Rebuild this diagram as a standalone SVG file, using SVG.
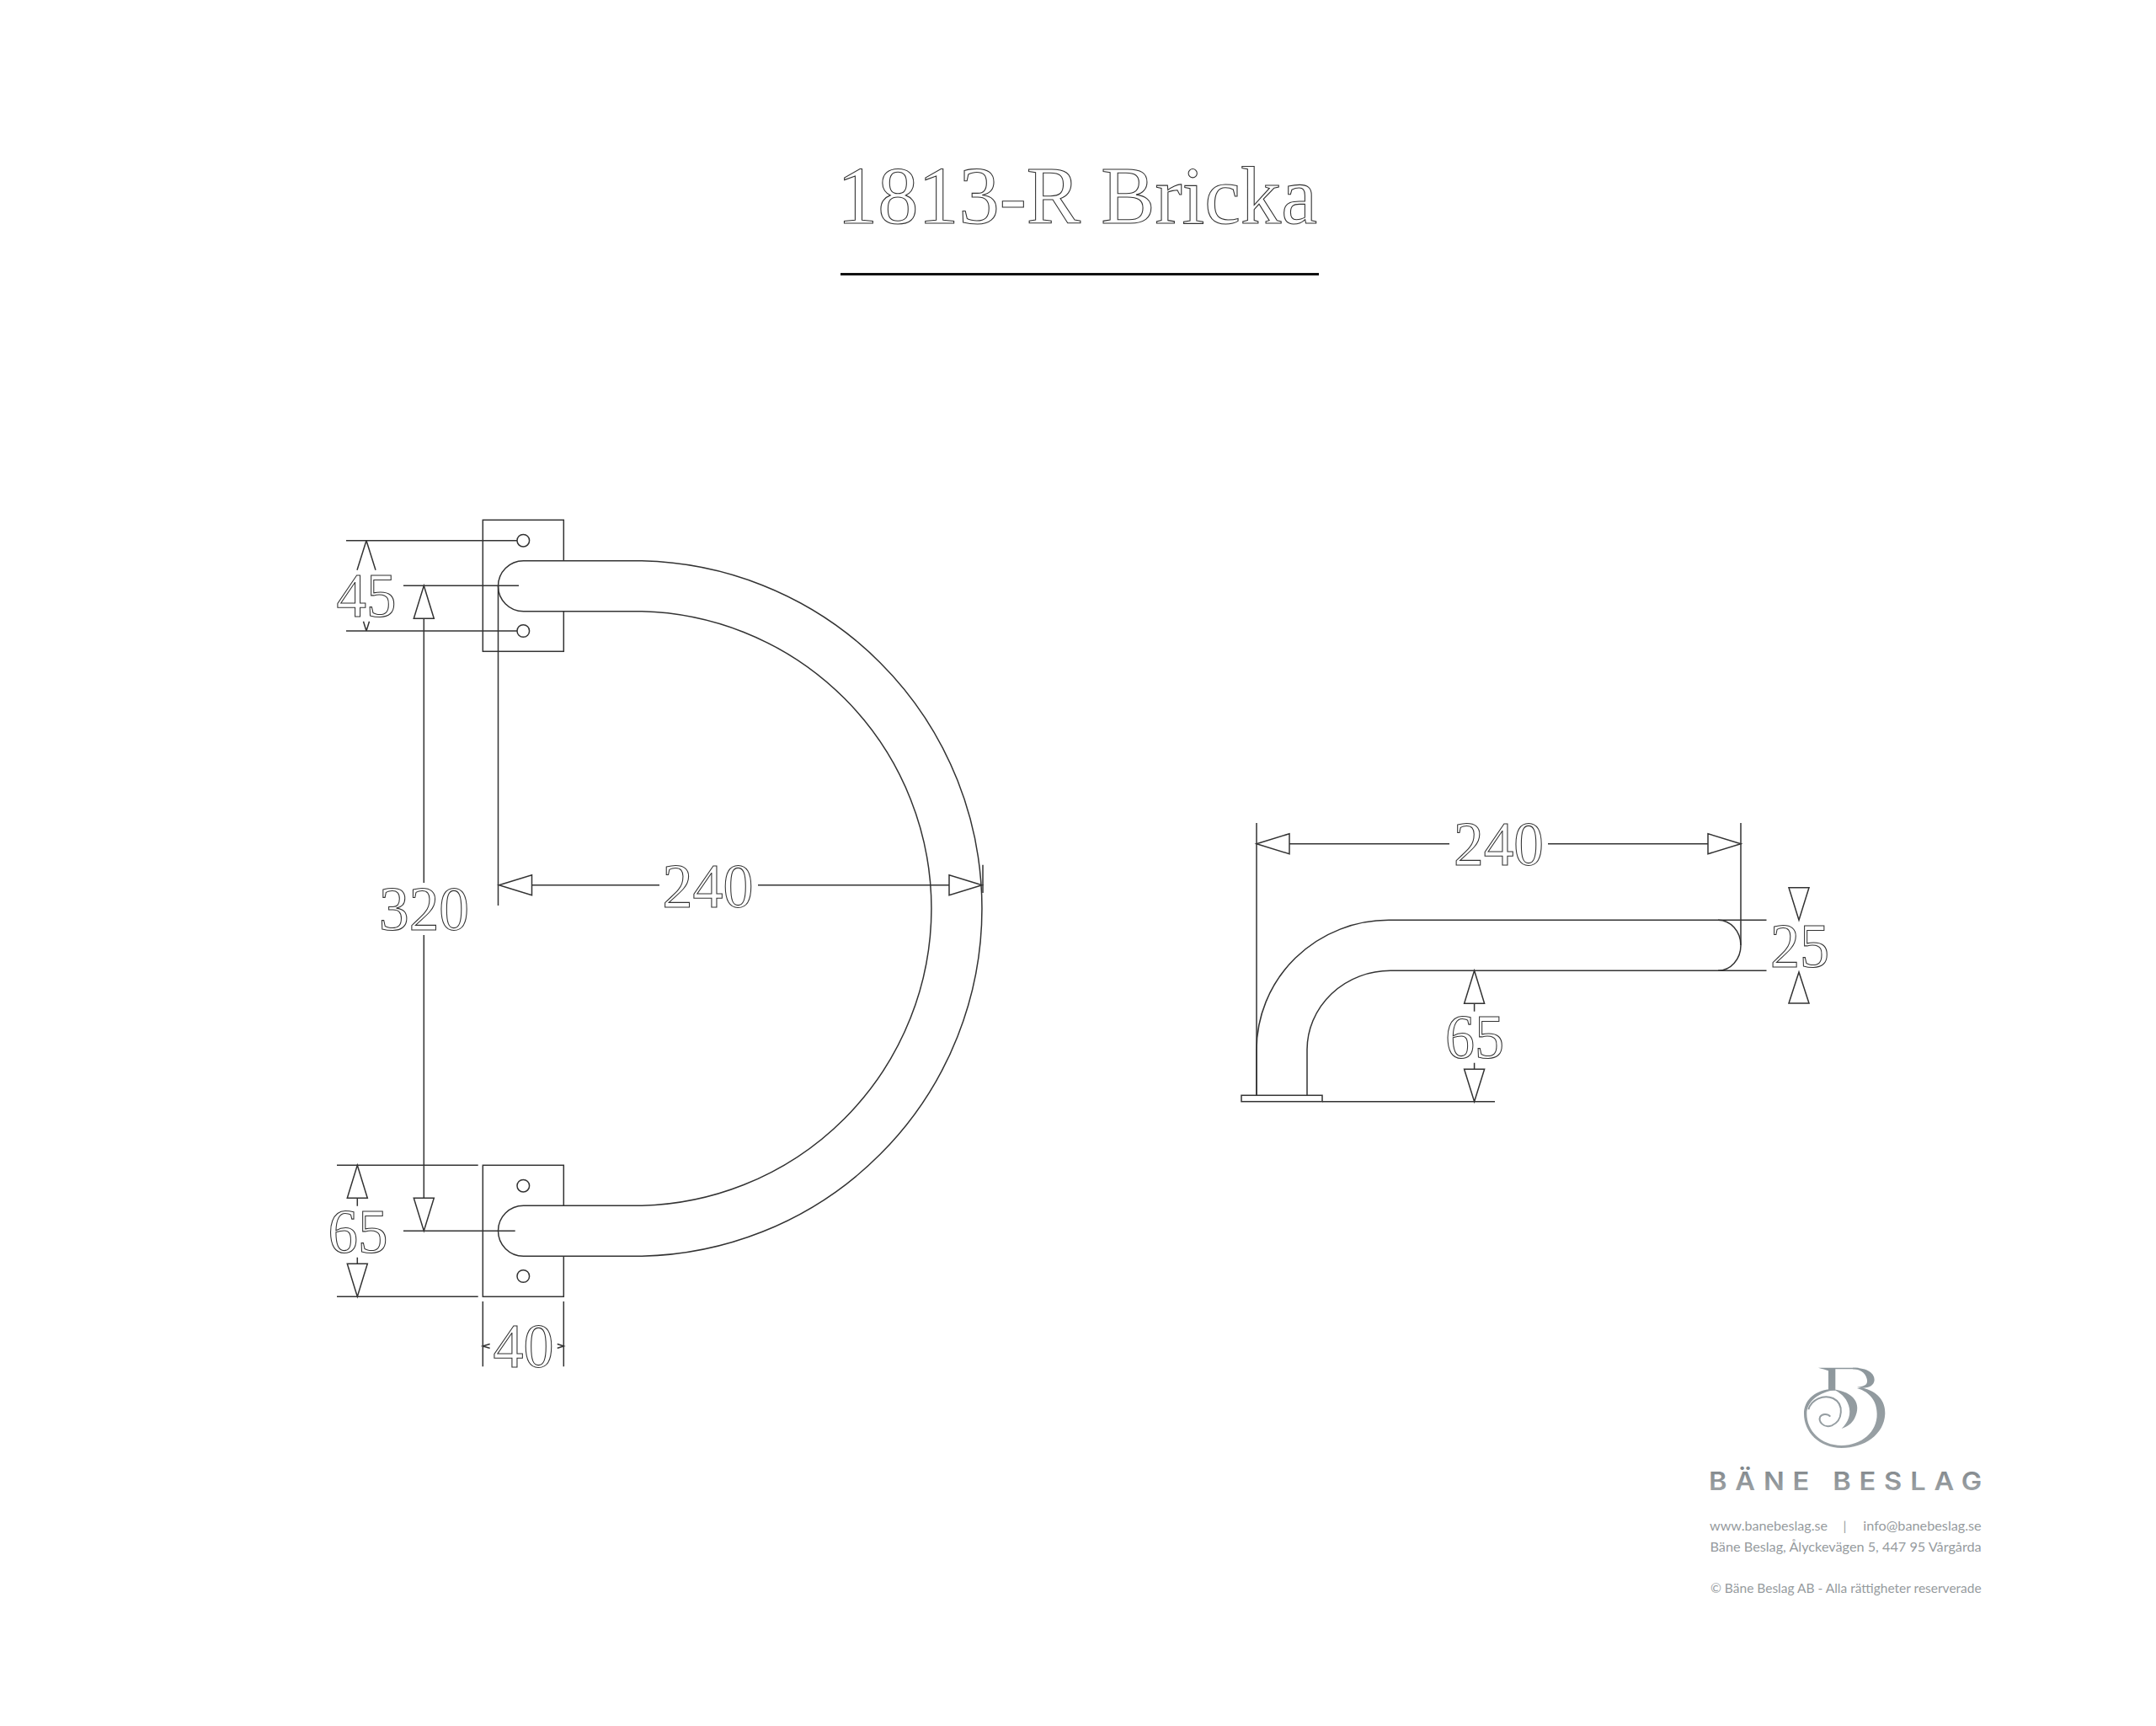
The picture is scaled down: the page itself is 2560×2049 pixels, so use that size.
<svg xmlns="http://www.w3.org/2000/svg" width="2560" height="2049" viewBox="0 0 2560 2049">
<style>
.l{fill:none;stroke:#333;stroke-width:1.5}
.s{fill:#fff;stroke:#333;stroke-width:1.5}
.n{font-family:"Liberation Serif","Times New Roman",serif;font-size:74px;fill:#fff;stroke:#333;stroke-width:1.1;text-anchor:middle}
.t{font-family:"Lato","Noto Sans",sans-serif;font-size:15.5px;fill:#969b9e}
.g{fill:none;stroke:url(#lg)}
.f{fill:url(#lg)}
</style>
<defs>
<linearGradient id="lg" gradientUnits="userSpaceOnUse" x1="0" y1="40" x2="0" y2="330"><stop offset="0" stop-color="#8d979c"/><stop offset="1" stop-color="#9aa1a5"/></linearGradient>
<linearGradient id="tg" x1="0" y1="0" x2="0" y2="1"><stop offset="0" stop-color="#7f8589"/><stop offset="1" stop-color="#a3a8ab"/></linearGradient>
</defs>
<rect width="2560" height="2049" fill="#fff"/>
<g id="title">
<text x="1279" y="265" font-family="Liberation Serif,serif" font-size="97" text-anchor="middle" textLength="570" lengthAdjust="spacingAndGlyphs" fill="#fff" stroke="#333" stroke-width="1.1">1813-R Bricka</text>
<rect x="998" y="324" width="568" height="3" fill="#111"/>
</g>
<g id="plate-top">
<rect class="s" x="573.3" y="617.3" width="96" height="156"/>
<circle class="l" cx="621.3" cy="641.7" r="7.3"/>
<circle class="l" cx="621.3" cy="749" r="7.3"/>
</g>
<g id="plate-bottom">
<rect class="s" x="573.3" y="1383.3" width="96" height="156"/>
<circle class="l" cx="621.3" cy="1407.7" r="7.3"/>
<circle class="l" cx="621.3" cy="1515" r="7.3"/>
</g>
<g id="handle">
<path class="s" d="M621.5 665.7H753.3A412.8 412.8 0 0 1 753.3 1491.3H621.5A30 30 0 0 1 621.5 1431.3H753.3A352.8 352.8 0 0 0 753.3 725.7H621.5A30 30 0 0 1 621.5 665.7Z"/>
</g>
<g id="side-view">
<path class="l" d="M1492 1300V1246A157 154 0 0 1 1649 1092.3H2040A27 30 0 0 1 2040 1152.3H1651A99 94 0 0 0 1552 1246V1300"/>
<rect class="l" x="1474" y="1300.3" width="96" height="7.4"/>
</g>
<g id="connectors">
<path class="l" d="M411 641.7H614M411 749H614M479 695.3H616M591.5 695.3V1075M435 641.7L424 676.7M435 641.7L446 676.7M435 749L431.5 737.7M435 749L438.5 737.7"/>
<path class="l" d="M503.3 734V1048M503.3 1110V1422.3"/>
<path class="s" d="M503.3 695.3L515.3 734.3H491.3Z"/>
<path class="s" d="M503.3 1461.3L515.3 1422.3H491.3Z"/>
<path class="l" d="M400 1383.3H567.7M400 1539.3H567.7M479 1461.3H611.7M424.3 1422V1431.7M424.3 1492.7V1500.3"/>
<path class="s" d="M424.3 1383.3L436.3 1422.3H412.3Z"/>
<path class="s" d="M424.3 1539.3L436.3 1500.3H412.3Z"/>
<path class="l" d="M573.3 1545V1622.3M669.3 1545V1622.3M581.7 1595.5L573.3 1598L581.7 1600.5M661.7 1595.5L669.3 1598L661.7 1600.5"/>
<path class="l" d="M631.5 1050.7H783M900 1050.7H1127M1167 1026.7V1060"/>
<path class="s" d="M592.5 1050.7L631.5 1038.7V1062.7Z"/>
<path class="s" d="M1166 1050.7L1127 1038.7V1062.7Z"/>
<path class="l" d="M1492 977V1300M2067 977V1122M1531 1001.7H1721M1838 1001.7H2028M2040 1092.3H2097.5M2040 1152.3H2097.5M1570 1307.7H1775M1750.6 1191V1200.7M1750.6 1261.7V1269.3"/>
<path class="s" d="M1492 1001.7L1531 989.7V1013.7Z"/>
<path class="s" d="M2067 1001.7L2028 989.7V1013.7Z"/>
<path class="s" d="M1750.6 1152.3L1762.6 1191.3H1738.6Z"/>
<path class="s" d="M1750.6 1307.7L1762.6 1269.3H1738.6Z"/>
<path class="s" d="M2136 1092.3L2148 1053.7H2124Z"/>
<path class="s" d="M2136 1154L2148 1191H2124Z"/>
</g>
<g id="dimensions">
<text class="n" x="435" y="731.7" textLength="71" lengthAdjust="spacingAndGlyphs">45</text>
<text class="n" x="503.5" y="1104" textLength="107" lengthAdjust="spacingAndGlyphs">320</text>
<text class="n" x="840.5" y="1076.7" textLength="108" lengthAdjust="spacingAndGlyphs">240</text>
<text class="n" x="425" y="1487.3" textLength="71" lengthAdjust="spacingAndGlyphs">65</text>
<text class="n" x="621.5" y="1622.7" textLength="72" lengthAdjust="spacingAndGlyphs">40</text>
<text class="n" x="1779.5" y="1026.7" textLength="107" lengthAdjust="spacingAndGlyphs">240</text>
<text class="n" x="1751" y="1256" textLength="70" lengthAdjust="spacingAndGlyphs">65</text>
<text class="n" x="2137" y="1148.3" textLength="70" lengthAdjust="spacingAndGlyphs">25</text>
</g>
<g id="logo">
<g transform="translate(2020 1610) scale(.3333)">
<path class="f" d="M417 41H560V46H478V122H453V52C445 48 430 45 417 41Z"/>
<path class="f" d="M540 41C595 41 618 62 617 85C616 103 600 113 575 113L555 110C590 108 594 95 590 80C584 58 565 46 540 46Z"/>
<path class="f" d="M572 112C628 125 657 160 655 205C652 280 580 327 500 327C420 327 366 270 366 205C366 160 400 125 455 118L478 120C420 128 376 160 376 205C376 265 425 318 500 318C570 318 628 270 626 205C626 165 605 128 555 114Z"/>
<path class="g" stroke-width="6" d="M382 190C392 155 435 135 470 150C510 170 505 230 465 247C435 257 416 232 424 215C430 205 450 203 460 215"/>
<path class="f" d="M470 118C545 128 572 170 547 220C537 240 520 252 500 258C525 235 535 205 525 175C515 145 495 130 470 118Z"/>
</g>
<text x="2029" y="1769.3" font-family="Inter,sans-serif" font-size="30" font-weight="600" letter-spacing="9" fill="url(#tg)" textLength="334" lengthAdjust="spacingAndGlyphs">BÄNE BESLAG</text>
<text class="t" x="2030" y="1816.7" textLength="140" lengthAdjust="spacingAndGlyphs">www.banebeslag.se</text>
<text class="t" x="2188.5" y="1816.7">|</text>
<text class="t" x="2212.3" y="1816.7" textLength="140.4" lengthAdjust="spacingAndGlyphs">info@banebeslag.se</text>
<text class="t" x="2030.5" y="1841.7" textLength="322.2" lengthAdjust="spacingAndGlyphs">Bäne Beslag, Ålyckevägen 5, 447 95 Vårgårda</text>
<text class="t" x="2031" y="1890.7" textLength="321.7" lengthAdjust="spacingAndGlyphs">© Bäne Beslag AB - Alla rättigheter reserverade</text>
</g>
</svg>
